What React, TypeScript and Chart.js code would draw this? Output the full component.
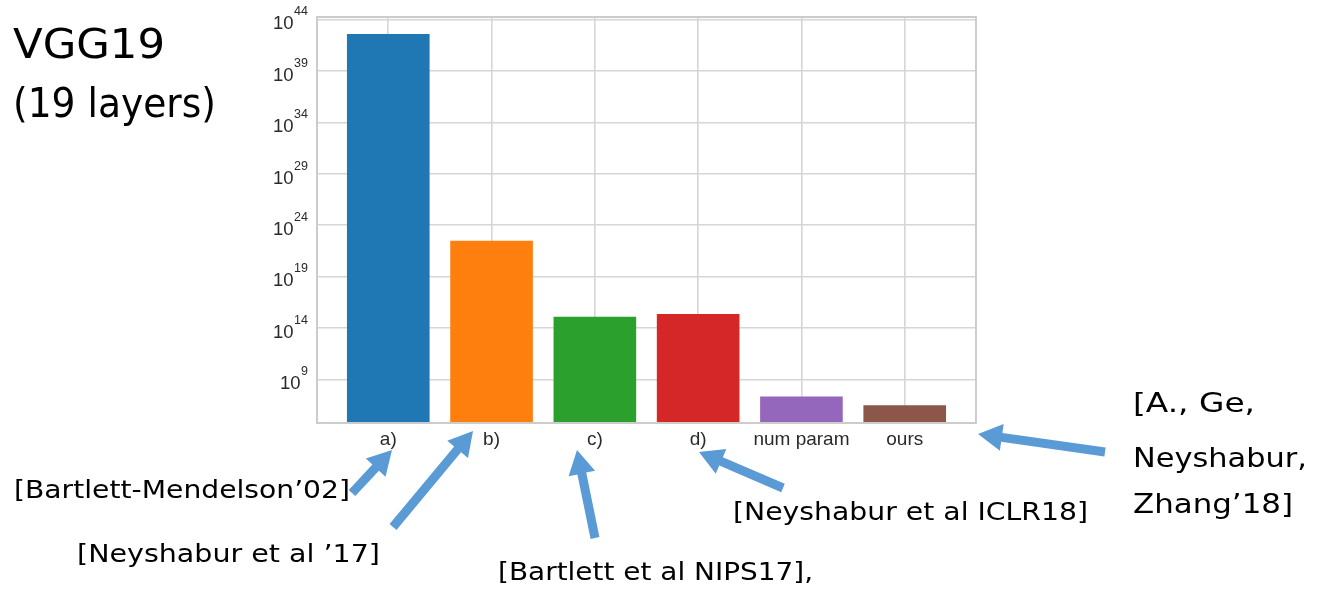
import React, { useEffect, useRef } from "react";
import { Chart, registerables } from "chart.js";

Chart.register(...registerables);

// ---- data ----
const categories = ["a)", "b)", "c)", "d)", "num param", "ours"];
const boundValues = [4e42, 3.2e22, 1.26e15, 2.3e15, 2.2e7, 3.2e6];
const barColors = ["#1f77b4", "#ff7f0e", "#2ca02c", "#d62728", "#9467bd", "#8c564b"];
const yTickExponents = [9, 14, 19, 24, 29, 34, 39, 44];
const yMinExp = 4.77;
const yMaxExp = 44.26;
const xMin = -0.69;
const xMax = 5.69;

const titleLines = ["VGG19", "(19 layers)"];
const citationTexts = [
  "[Bartlett-Mendelson\u201902]",
  "[Neyshabur et al \u201917]",
  "[Bartlett et al NIPS17],",
  "[Neyshabur et al ICLR18]",
  "[A., Ge,",
  "Neyshabur,",
  "Zhang\u201918]",
];

// ---- layout (annotation placement, px) ----
const titleLayout = [
  { x: 13, y: 58, w: 152, size: 41 },
  { x: 13, y: 117, w: 203, size: 41 },
];
const citationLayout = [
  { x: 14, y: 498, w: 336, size: 25 },
  { x: 77, y: 562, w: 303, size: 25 },
  { x: 498, y: 580, w: 315, size: 25 },
  { x: 733, y: 520, w: 355, size: 25 },
  { x: 1133, y: 412, w: 122, size: 26 },
  { x: 1133, y: 467, w: 174, size: 26 },
  { x: 1133, y: 513, w: 160, size: 26 },
];
const arrowLayout = [
  [352, 493, 392, 450],
  [393, 527, 473, 431],
  [595, 538, 577, 450],
  [783, 488, 699, 452],
  [1105, 452, 978, 434],
];

const AX_FONT = "'Liberation Sans', Arial, Helvetica, sans-serif";
const ANN_FONT = "'DejaVu Sans', sans-serif";

function drawArrow(ctx: CanvasRenderingContext2D, x0: number, y0: number, x1: number, y1: number) {
  const shaft = 9, headLen = 24, headW = 27;
  const dx = x1 - x0, dy = y1 - y0;
  const L = Math.hypot(dx, dy);
  const ux = dx / L, uy = dy / L;
  const nx = -uy, ny = ux;
  const bx = x1 - ux * headLen, by = y1 - uy * headLen;
  ctx.beginPath();
  ctx.moveTo(x0 + (nx * shaft) / 2, y0 + (ny * shaft) / 2);
  ctx.lineTo(bx + (nx * shaft) / 2, by + (ny * shaft) / 2);
  ctx.lineTo(bx + (nx * headW) / 2, by + (ny * headW) / 2);
  ctx.lineTo(x1, y1);
  ctx.lineTo(bx - (nx * headW) / 2, by - (ny * headW) / 2);
  ctx.lineTo(bx - (nx * shaft) / 2, by - (ny * shaft) / 2);
  ctx.lineTo(x0 - (nx * shaft) / 2, y0 - (ny * shaft) / 2);
  ctx.closePath();
  ctx.fill();
}

function fitText(ctx: CanvasRenderingContext2D, text: string, x: number, y: number, w: number) {
  const natural = ctx.measureText(text).width;
  const sx = natural > 0 ? w / natural : 1;
  ctx.save();
  ctx.translate(x, y);
  ctx.scale(sx, 1);
  ctx.fillText(text, 0, 0);
  ctx.restore();
}

const overlayPlugin = {
  id: "overlay",
  afterDraw(chart: any) {
    const ctx: CanvasRenderingContext2D = chart.ctx;
    const { left, right, top, bottom } = chart.chartArea;
    const xs = chart.scales.x;
    const ys = chart.scales.y;
    ctx.save();

    // frame
    ctx.strokeStyle = "#cccccc";
    ctx.lineWidth = 2;
    ctx.strokeRect(left, top, right - left, bottom - top);

    // y tick labels 10^n
    const labelRight = 308;
    ctx.fillStyle = "#2a2a2a";
    ctx.textBaseline = "alphabetic";
    yTickExponents.forEach((e) => {
      const py = ys.getPixelForValue(Math.pow(10, e));
      ctx.font = `12.5px ${AX_FONT}`;
      const ew = ctx.measureText(String(e)).width;
      ctx.textAlign = "left";
      ctx.fillText(String(e), labelRight - ew, py - 4.3);
      ctx.font = `18.5px ${AX_FONT}`;
      ctx.textAlign = "right";
      ctx.fillText("10", labelRight - ew - 0.5, py + 9.7);
    });

    // x tick labels
    ctx.font = `19px ${AX_FONT}`;
    ctx.textAlign = "center";
    ctx.textBaseline = "middle";
    categories.forEach((c, i) => {
      ctx.fillText(c, xs.getPixelForValue(i), bottom + 17);
    });

    // title
    ctx.fillStyle = "#000000";
    ctx.textAlign = "left";
    ctx.textBaseline = "alphabetic";
    titleLines.forEach((t, i) => {
      const l = titleLayout[i];
      ctx.font = `${l.size}px ${ANN_FONT}`;
      fitText(ctx, t, l.x, l.y, l.w);
    });

    // citations
    citationTexts.forEach((t, i) => {
      const l = citationLayout[i];
      ctx.font = `${l.size}px ${ANN_FONT}`;
      fitText(ctx, t, l.x, l.y, l.w);
    });

    // arrows
    ctx.fillStyle = "#5b9bd5";
    arrowLayout.forEach(([x0, y0, x1, y1]) => drawArrow(ctx, x0, y0, x1, y1));

    ctx.restore();
  },
};

export default function App() {
  const canvasRef = useRef<HTMLCanvasElement | null>(null);

  useEffect(() => {
    if (!canvasRef.current) return;
    const chart = new Chart(canvasRef.current, {
      type: "bar",
      data: {
        datasets: [
          {
            data: boundValues.map((v, i) => ({ x: i, y: v })) as any,
            backgroundColor: barColors,
            borderWidth: 0,
            barPercentage: 0.8,
            categoryPercentage: 1.0,
          },
        ],
      },
      options: {
        responsive: false,
        animation: false,
        devicePixelRatio: 1,
        layout: { padding: { left: 317, right: 342, top: 17, bottom: 167 } },
        plugins: { legend: { display: false }, tooltip: { enabled: false } },
        scales: {
          x: {
            type: "linear",
            offset: false,
            min: xMin,
            max: xMax,
            afterBuildTicks: (scale: any) => {
              scale.ticks = categories.map((_, i) => ({ value: i }));
            },
            afterFit: (scale: any) => {
              scale.height = 0;
            },
            ticks: { display: false },
            grid: { offset: false, color: "#d6d6d6", lineWidth: 1.6, drawTicks: false },
            border: { display: false },
          },
          y: {
            type: "logarithmic",
            min: Math.pow(10, yMinExp),
            max: Math.pow(10, yMaxExp),
            afterBuildTicks: (scale: any) => {
              scale.ticks = yTickExponents.map((e) => ({ value: Math.pow(10, e) }));
            },
            afterFit: (scale: any) => {
              scale.width = 0;
            },
            ticks: { display: false },
            grid: { color: "#d6d6d6", lineWidth: 1.6, drawTicks: false },
            border: { display: false },
          },
        },
      } as any,
      plugins: [overlayPlugin],
    });
    return () => chart.destroy();
  }, []);

  return (
    <div style={{ position: "fixed", left: 0, top: 0, width: 1318, height: 590, background: "#ffffff" }}>
      <canvas ref={canvasRef} width={1318} height={590} style={{ display: "block" }} />
    </div>
  );
}
